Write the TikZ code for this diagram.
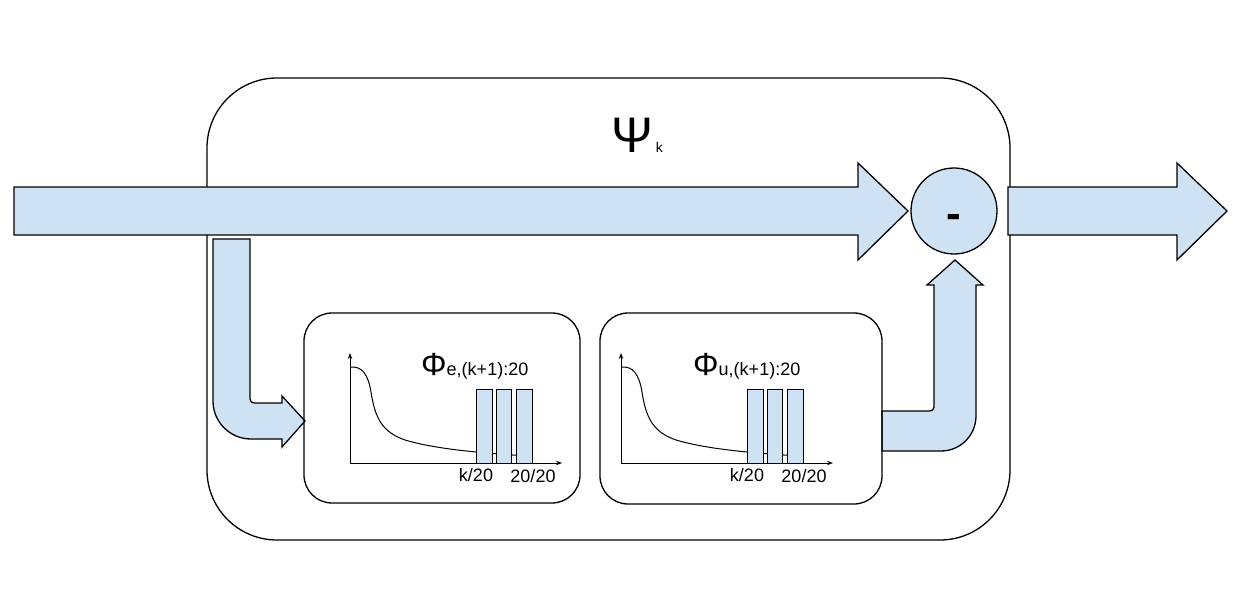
\documentclass[tikz,border=0pt]{standalone}
\usepackage{fontspec}
\setmainfont{Liberation Sans}
\usetikzlibrary{arrows.meta}
\definecolor{lblue}{HTML}{CFE2F3}
\begin{document}
\begin{tikzpicture}[x=1pt,y=-1pt,
  blk/.style={draw=black, fill=lblue, line width=1.3pt, line join=miter},
  frame/.style={draw=black, line width=1.3pt, rectangle, inner sep=0pt},
  bar/.style={draw=black, fill=lblue, line width=1pt},
  axis/.style={line width=1pt, -{Stealth[length=6pt,width=4.5pt]}},
  curve/.style={line width=1pt},
  lbl/.style={inner sep=0pt, anchor=base, font=\fontsize{18}{22}\selectfont}]
\useasboundingbox (0,0) rectangle (1243,604);

% outer box
\node[frame, rounded corners=70pt, minimum width=803pt, minimum height=462pt] (outer) at (608.5,309) {};
\node[inner sep=0pt, anchor=base west] (psi) at (611,153)
  {\fontsize{50}{60}\selectfont Ψ\fontsize{14}{16}\selectfont\hspace{3pt}k};

% main arrow
\draw[blk] (14,187) -- (858,187) -- (858,163) -- (908,211) -- (858,260) -- (858,235) -- (14,235) -- cycle;
% output arrow
\draw[blk] (1008,187) -- (1177,187) -- (1177,163) -- (1227,211) -- (1177,260) -- (1177,235) -- (1008,235) -- cycle;

% difference circle
\node[circle, draw=black, fill=lblue, line width=1.3pt, minimum size=86pt, inner sep=0pt] (sum) at (954,211) {};
\node[anchor=base, inner sep=0pt, font=\bfseries\fontsize{44}{50}\selectfont] (minus) at (954,229) {-};

% left bent arrow
\draw[blk] (213,239) -- (250,239) -- (250,399) .. controls (250,401.2) and (251.8,403) .. (254,403)
  -- (282,403) -- (282,396) -- (305,421) -- (282,447) -- (282,439) -- (251,439)
  .. controls (230,439) and (213,422) .. (213,401) -- cycle;
% right bent arrow
\draw[blk] (882,411) -- (930,411) .. controls (932.2,411) and (934,409.2) .. (934,407)
  -- (934,285) -- (927,285) -- (955,260) -- (983,285) -- (976,285) -- (976,416)
  .. controls (976,435.3) and (960.3,451) .. (941,451) -- (882,451) -- cycle;

% inner boxes
\node[frame, rounded corners=28pt, minimum width=276pt, minimum height=190pt] (boxe) at (442,408) {};
\node[frame, rounded corners=28pt, minimum width=282pt, minimum height=191pt] (boxu) at (741,408.5) {};

% charts
\foreach \dx/\s in {0/e, 271/u} {
  \begin{scope}[xshift=\dx pt]
    \coordinate (o\s) at (350,463);
    \coordinate (yt\s) at (350,353);
    \coordinate (xt\s) at (562,463);
    \draw[curve] (350,367) .. controls (362,366) and (368,374) .. (371,392)
      .. controls (375,418) and (382,432) .. (405,440)
      .. controls (435,449) and (480,453) .. (528,456);
    \draw[axis] (o\s) -- (yt\s);
    \draw[axis] (o\s) -- (xt\s);
    \draw[bar] (476.5,389) rectangle (492,463);
    \draw[bar] (496,389) rectangle (511.5,463);
    \draw[bar] (516.5,389) rectangle (532,463);
    \node[lbl] (k\s) at (476,481) {k/20};
    \node[lbl] (t\s) at (533,482) {20/20};
  \end{scope}
}
\node[inner sep=0pt, anchor=base west] (phie) at (421,375)
  {\fontsize{32}{38}\selectfont Φ\fontsize{18}{22}\selectfont e,(k+1):20};
\node[inner sep=0pt, anchor=base west] (phiu) at (693,375)
  {\fontsize{32}{38}\selectfont Φ\fontsize{18}{22}\selectfont u,(k+1):20};
\end{tikzpicture}
\end{document}
